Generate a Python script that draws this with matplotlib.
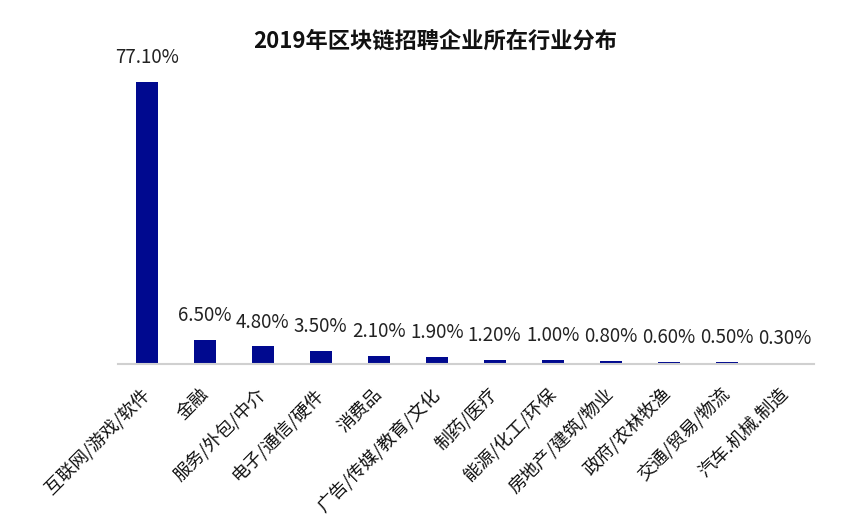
import matplotlib
matplotlib.use("Agg")
from matplotlib import pyplot as plt
from matplotlib.transforms import ScaledTranslation
import numpy as np

plt.rcParams['font.family'] = ['Noto Sans CJK SC', 'DejaVu Sans']

industries = ['互联网/游戏/软件', '金融', '服务/外包/中介', '电子/通信/硬件', '消费品',
              '广告/传媒/教育/文化', '制药/医疗', '能源/化工/环保', '房地产/建筑/物业',
              '政府/农林牧渔', '交通/贸易/物流', '汽车.机械.制造']
shares = [77.10, 6.50, 4.80, 3.50, 2.10, 1.90, 1.20, 1.00, 0.80, 0.60, 0.50, 0.30]

fig = plt.figure(figsize=(8.6, 5.24), dpi=100)
ax = fig.add_axes([0.137, 0.3053, 0.809, 0.538])

x = np.arange(len(industries))
bars = ax.bar(x, shares, width=0.38, color='#00098f', zorder=2)

for xi, v in zip(x, shares):
    ax.annotate(f'{v:.2f}%', (xi, v), xytext=(0, 10), textcoords='offset points',
                ha='center', va='bottom', fontsize=13.5, color='#222222',
                annotation_clip=False)

ax.set_xlim(-0.5, len(industries) - 0.5)
ax.set_ylim(0, 77.1)
ax.set_xticks(x)
ax.set_xticklabels(industries, rotation=45, ha='right', fontsize=13, color='#111111')
ax.tick_params(axis='x', length=0, pad=15)
shift = ScaledTranslation(7 / 100, 0, fig.dpi_scale_trans)
for lbl in ax.get_xticklabels():
    lbl.set_transform(lbl.get_transform() + shift)
ax.set_yticks([])
for s in ['top', 'right', 'left']:
    ax.spines[s].set_visible(False)
ax.spines['bottom'].set_color('#d0d0d0')
ax.spines['bottom'].set_linewidth(1.5)

fig.text(0.506, 0.922, '2019年区块链招聘企业所在行业分布', ha='center', va='center',
         fontsize=16, fontweight='bold', color='#111111')

fig.savefig('out.png', dpi=100)
